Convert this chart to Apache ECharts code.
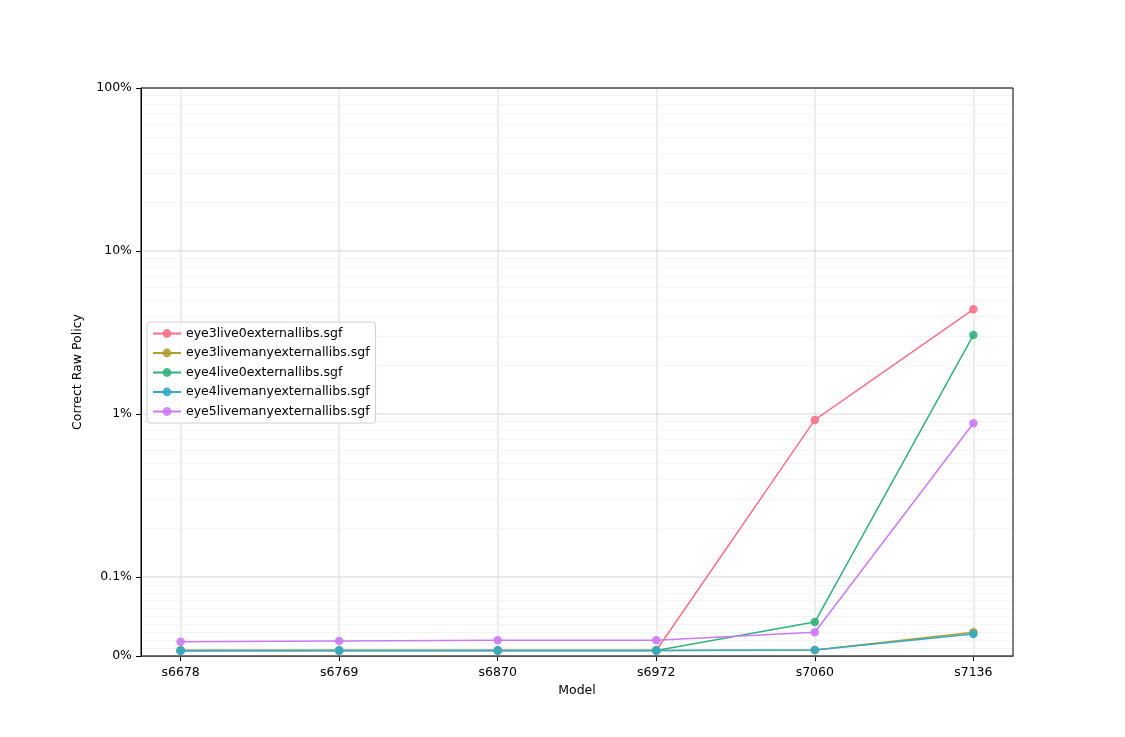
<!DOCTYPE html>
<html>
<head>
<meta charset="utf-8">
<script src="https://cdn.jsdelivr.net/npm/echarts@6/dist/echarts.min.js"></script>
<style>html,body{margin:0;padding:0;background:#fff;}#c{width:1125px;height:737px;}</style>
</head>
<body>
<div id="c"></div>
<script>
// Data (values in percent)
const categories = ['s6678', 's6769', 's6870', 's6972', 's7060', 's7136'];
const seriesNames = ['eye3live0externallibs.sgf', 'eye3livemanyexternallibs.sgf', 'eye4live0externallibs.sgf', 'eye4livemanyexternallibs.sgf', 'eye5livemanyexternallibs.sgf'];
const eye3live0 = [0.007, 0.007, 0.007, 0.007, 0.92, 4.39];
const eye3many  = [0.007, 0.007, 0.007, 0.007, 0.0076, 0.030];
const eye4live0 = [0.007, 0.007, 0.007, 0.007, 0.043, 3.05];
const eye4many  = [0.0067, 0.0069, 0.0071, 0.0071, 0.0076, 0.028];
const eye5many  = [0.018, 0.019, 0.020, 0.020, 0.030, 0.877];
const majorTickValues = [0, 0.1, 1, 10, 100];
const majorTickLabels = ['0%', '0.1%', '1%', '10%', '100%'];
const minorTickValues = [0.01,0.02,0.03,0.04,0.05,0.06,0.07,0.08,0.09,
  0.2,0.3,0.4,0.5,0.6,0.7,0.8,0.9, 2,3,4,5,6,7,8,9, 20,30,40,50,60,70,80,90];
const colors = ['#f77189', '#ae9d31', '#33b07a', '#38a9c5', '#cc7af4'];

// symlog-like scale: linear from 0 to linthresh, log above
const LINTHRESH = 0.1;
const LINSPAN = 79 / 163; // linear region span in decades
function sy(v) { return v <= LINTHRESH ? v / LINTHRESH * LINSPAN : LINSPAN + Math.log10(v / LINTHRESH); }

const allData = [eye3live0, eye3many, eye4live0, eye4many, eye5many];
const font = 'DejaVu Sans';
const FS = 12.5;
const yMax = sy(100);

const chart = echarts.init(document.getElementById('c'), null, {renderer: 'canvas'});
chart.setOption({
  backgroundColor: '#fff',
  animation: false,
  textStyle: {fontFamily: font},
  color: colors,
  grid: {left: 141, right: 112, top: 88, bottom: 81, show: true, borderColor: '#000', borderWidth: 1, backgroundColor: 'transparent', z: 10},
  legend: {
    orient: 'vertical', left: 147, top: 322,
    padding: [4, 6, 4, 5],
    itemWidth: 28, itemHeight: 11, itemGap: 4.5,
    borderColor: '#d0d0d0', borderWidth: 1, borderRadius: 3,
    backgroundColor: 'rgba(255,255,255,0.8)',
    textStyle: {fontFamily: font, fontSize: FS, color: '#000', lineHeight: 15},
    data: seriesNames
  },
  xAxis: {
    type: 'value', min: -0.25, max: 5.25,
    name: 'Model', nameLocation: 'middle', nameGap: 28,
    nameTextStyle: {fontFamily: font, fontSize: FS, color: '#000'},
    axisLine: {show: true, onZero: false, lineStyle: {color: '#000'}},
    axisTick: {show: true, length: 5, lineStyle: {color: '#000'}, customValues: [0,1,2,3,4,5]},
    axisLabel: {fontFamily: font, fontSize: FS, color: '#000', margin: 10, customValues: [0,1,2,3,4,5],
      formatter: v => categories[Math.round(v)] || ''},
    splitLine: {show: true, lineStyle: {color: '#e6e6e6', width: 1.5}}
  },
  yAxis: [{
    type: 'value', min: 0, max: yMax,
    name: 'Correct Raw Policy', nameLocation: 'middle', nameGap: 57,
    nameTextStyle: {fontFamily: font, fontSize: FS, color: '#000'},
    axisLine: {show: true, onZero: false, lineStyle: {color: '#000'}},
    axisTick: {show: true, length: 5, lineStyle: {color: '#000'}, customValues: majorTickValues.map(sy)},
    axisLabel: {fontFamily: font, fontSize: FS, color: '#000', margin: 9, padding: [3, 0, 0, 0], customValues: majorTickValues.map(sy),
      formatter: v => {
        let best = 0, bd = 1e9;
        majorTickValues.forEach((m, i) => { const d = Math.abs(sy(m) - v); if (d < bd) { bd = d; best = i; } });
        return majorTickLabels[best];
      }},
    splitLine: {show: true, lineStyle: {color: '#e3e3e3', width: 1.5}},
    z: 2
  }, {
    type: 'value', min: 0, max: yMax, position: 'left',
    axisLine: {show: false, onZero: false}, axisLabel: {show: false},
    axisTick: {show: false, customValues: minorTickValues.map(sy)},
    splitLine: {show: true, lineStyle: {color: '#f3f3f3', width: 1.2}},
    z: 1
  }],
  series: seriesNames.map((n, i) => ({
    name: n, type: 'line', yAxisIndex: 0,
    data: allData[i].map((v, j) => [j, sy(v)]),
    symbol: 'circle', symbolSize: 8.5, showSymbol: true,
    lineStyle: {width: 1.5, color: colors[i]},
    itemStyle: {color: colors[i], opacity: 0.9},
    emphasis: {disabled: true},
    z: 3 + i
  }))
});
</script>
</body>
</html>
